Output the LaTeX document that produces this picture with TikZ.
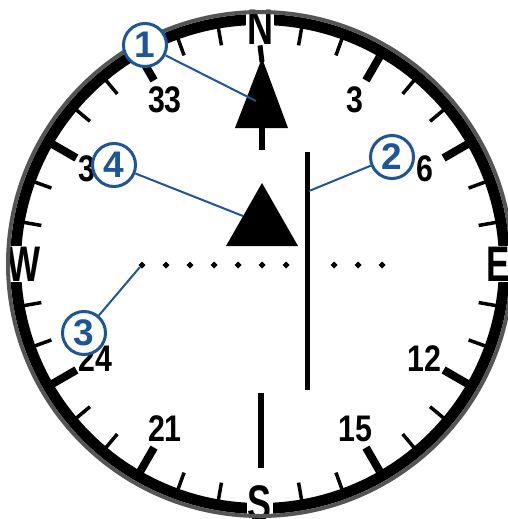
\documentclass[tikz,border=0pt]{standalone}
\usepackage{fontspec}
\setmainfont{Liberation Sans}
\usetikzlibrary{calc}

\definecolor{callblue}{RGB}{30,85,150}
\definecolor{rimgray}{RGB}{85,85,85}
\newcommand{\cond}[2][0.82]{\scalebox{#1}[1]{#2}}

\begin{document}
\begin{tikzpicture}[
    x=1pt, y=-1pt,
    dial/.style={font=\bfseries\fontsize{37}{37}\selectfont, inner sep=0pt},
    cardinal/.style={font=\bfseries\fontsize{50}{50}\selectfont, fill=white, inner sep=1pt},
    callout/.style={
        circle,
        draw=callblue,
        line width=3pt,
        fill=white,
        text=callblue,
        minimum size=43pt,
        inner sep=0pt,
        font=\bfseries\fontsize{37}{37}\selectfont
    },
    leader/.style={callblue, line width=2pt},
    bar/.style={line width=6pt}
]

\useasboundingbox (0,0) rectangle (508,519);
\clip (0,0) rectangle (508,519);

\begin{scope}[shift={(260,264)}]
  % bezel
  \draw[line width=11pt] (0,0) circle (244.5);
  \foreach \b in {10,20,40,50,70,80,100,110,130,140,160,170,190,200,220,230,250,260,280,290,310,320,340,350}
    \draw[line width=3.5pt] (\b-90:241) -- (\b-90:222);
  \foreach \b in {30,60,120,150,210,240,300,330}
    \draw[line width=8pt] (\b-90:241) -- (\b-90:212);

  % bearings
  \foreach \b/\t in {30/3, 60/6, 120/12, 150/15, 210/21, 240/24, 300/30, 330/33}
    \node[dial] (d\t) at (\b-90:190) {\cond{\t}};

  \node[cardinal] (n) at (-90:237) {\cond[0.72]{N}};
  \node[cardinal] (e) at (0:238) {\cond[0.7]{E}};
  \node[cardinal] (s) at (90:239) {\cond[0.72]{S}};
  \node[cardinal] (w) at (180:236) {\cond[0.7]{W}};

  \draw[rimgray, line width=4pt] (0,0) circle (252);
\end{scope}

% bearing pointer
\draw[line width=5pt] (n.south) -- (262,62);
\fill (262,58) -- (288,128) -- (235,128) -- cycle;
\draw[bar] (262,126) -- (262,150);
\coordinate (p1) at (256,101);

% course line
\draw[line width=5pt] (307,152) -- (307,390);
\coordinate (p2) at (309,191);

% deviation scale
\foreach \x in {142,166,190,214,238,262,286,334,358,382}
  \fill (\x,265) ++(-3.5,0) -- ++(3.5,-3.5) -- ++(3.5,3.5) -- ++(-3.5,3.5) -- cycle;
\coordinate (p3) at (140,267);

% location
\fill (262,183) -- (298,246) -- (226,246) -- cycle;
\coordinate (p4) at (243,216);

\draw[bar] (261,393) -- (261,468);

% callouts
\node[callout] (c1) at (145,45) {1};
\node[callout] (c2) at (392,157) {2};
\node[callout] (c3) at (84,333) {3};
\node[callout] (c4) at (114,165) {4};

\draw[leader] (c1) -- (p1);
\draw[leader] (c2) -- (p2);
\draw[leader] (c3) -- (p3);
\draw[leader] (c4) -- (p4);

\end{tikzpicture}
\end{document}
